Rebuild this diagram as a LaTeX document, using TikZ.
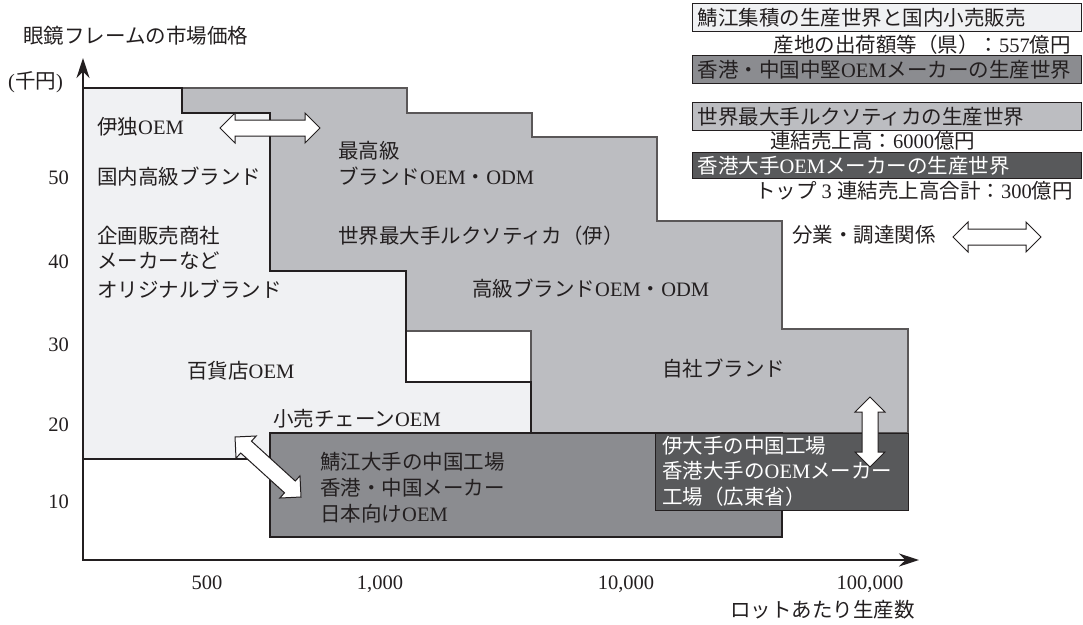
\documentclass[tikz,border=0pt]{standalone}
\usepackage{fontspec}
\setmainfont{Liberation Serif}
\newfontfamily\jp{Noto Sans CJK JP}
\usetikzlibrary{arrows.meta}
\definecolor{cLight}{RGB}{240,241,243}
\definecolor{cMid}{RGB}{188,189,193}
\definecolor{cDark}{RGB}{139,140,144}
\definecolor{cDarkest}{RGB}{88,89,91}
\definecolor{txt}{RGB}{35,31,32}
\newcommand\J[1]{{\jp #1}}
\newcommand\fsz{\fontsize{20.5pt}{24pt}\selectfont}
\newcommand\dblarrow[4]{%
  \draw[blockarrow,shift={(#1,#2)},rotate=#4]
    (-#3,0) -- (-#3+15,-15) -- (-#3+15,-8) -- (#3-15,-8) -- (#3-15,-15) -- (#3,0)
    -- (#3-15,15) -- (#3-15,8) -- (-#3+15,8) -- (-#3+15,15) -- cycle;}
\tikzset{
  lbl/.style={anchor=west, inner sep=0pt, text=txt, font=\fsz, text height=16pt, text depth=3pt},
  lblw/.style={lbl, text=white},
  lightreg/.style={fill=cLight, draw=txt, line width=2pt, line join=miter},
  midreg/.style={fill=cMid, draw=txt!75, line width=1.1pt},
  darkreg/.style={fill=cDark, draw=txt, line width=1.6pt},
  darkestreg/.style={fill=cDarkest, draw=txt, line width=1pt},
  blockarrow/.style={fill=white, draw=txt, line width=1pt, line join=miter},
  axisline/.style={draw=txt, line width=2pt},
  legbox/.style={anchor=north west, inner ysep=0pt, inner xsep=5pt, text width=379pt, align=left,
                 minimum height=28pt, font=\fsz, text=txt, draw=txt, line width=1.2pt},
}
\begin{document}
\begin{tikzpicture}[x=1pt,y=-1pt]
\useasboundingbox (0,0) rectangle (1083,624);
% regions
\draw[midreg] (182,88) -- (407,88) -- (407,113) -- (532,113) -- (532,137) -- (657,137)
  -- (657,221) -- (782,221) -- (782,329) -- (908,329) -- (908,433) -- (531,433)
  -- (531,331) -- (406,331) -- (406,271) -- (270,271) -- (270,113) -- (182,113) -- cycle;
\draw[lightreg] (83,88) -- (182,88) -- (182,113) -- (270,113) -- (270,271) -- (406,271)
  -- (406,382) -- (531,382) -- (531,433) -- (270,433) -- (270,459) -- (83,459) -- cycle;
\draw[darkreg] (270,433) rectangle (782,537);
\draw[darkestreg] (655,433) rectangle (908,510);
% axes
\coordinate (Ytip) at (83,58);
\coordinate (O) at (83,560);
\coordinate (Xtip) at (919,560);
\draw[axisline, {Stealth[length=20pt,width=13pt]}-{Stealth[length=20pt,width=13pt]}] (Ytip) -- (O) -- (Xtip);
% axis labels
\node[lbl] (ytitle) at (23,37) {\J{眼鏡フレームの市場価格}};
\node[lbl] (yunit) at (8,82) {(\J{千円})};
\node[lbl, anchor=east] (y50) at (69,178) {50};
\node[lbl, anchor=east] (y40) at (69,262) {40};
\node[lbl, anchor=east] (y30) at (69,345) {30};
\node[lbl, anchor=east] (y20) at (69,425) {20};
\node[lbl, anchor=east] (y10) at (69,502) {10};
\node[lbl, anchor=center] (x500) at (207,583) {500};
\node[lbl, anchor=center] (x1k) at (380,583) {1,000};
\node[lbl, anchor=center] (x10k) at (626,583) {10,000};
\node[lbl, anchor=center] (x100k) at (870,583) {100,000};
\node[lbl, anchor=east] (xtitle) at (915,611) {\J{ロットあたり生産数}};
% region labels
\node[lbl] (tIdo) at (97,128) {\J{伊独}OEM};
\node[lbl] (tKokunai) at (97,178) {\J{国内高級ブランド}};
\node[lbl] (tKikaku1) at (97,237) {\J{企画販売商社}};
\node[lbl] (tKikaku2) at (97,262) {\J{メーカーなど}};
\node[lbl] (tOrig) at (97,291) {\J{オリジナルブランド}};
\node[lbl] (tSaiko1) at (338,152) {\J{最高級}};
\node[lbl] (tSaiko2) at (338,178) {\J{ブランド}OEM\J{・}ODM};
\node[lbl] (tLux) at (338,237) {\J{世界最大手ルクソティカ（伊）}};
\node[lbl] (tKokyu) at (472,290) {\J{高級ブランド}OEM\J{・}ODM};
\node[lbl] (tHyakka) at (187,372) {\J{百貨店}OEM};
\node[lbl] (tKouri) at (273,420) {\J{小売チェーン}OEM};
\node[lbl] (tSabae1) at (320,463) {\J{鯖江大手の中国工場}};
\node[lbl] (tSabae2) at (320,489) {\J{香港・中国メーカー}};
\node[lbl] (tSabae3) at (320,515) {\J{日本向け}OEM};
\node[lbl] (tJisha) at (662,370) {\J{自社ブランド}};
\node[lblw] (tIt1) at (662,447) {\J{伊大手の中国工場}};
\node[lblw] (tIt2) at (662,472) {\J{香港大手の}OEM\J{メーカー}};
\node[lblw] (tIt3) at (662,498) {\J{工場（広東省）}};
% block arrows
\dblarrow{270}{128}{50}{0}
\dblarrow{268}{467}{44.6}{-42.3}
\dblarrow{870}{432}{35}{90}
% legend
\node[legbox, fill=cLight] (L1) at (692,3) {\J{鯖江集積の生産世界と国内小売販売}};
\node[lbl, anchor=east] (L1v) at (1071,46) {\J{産地の出荷額等（県）：}557\J{億円}};
\node[legbox, fill=cDark] (L2) at (692,55) {\J{香港・中国中堅}OEM\J{メーカーの生産世界}};
\node[legbox, fill=cMid] (L3) at (692,102) {\J{世界最大手ルクソティカの生産世界}};
\node[lbl] (L3v) at (770,142) {\J{連結売上高：}6000\J{億円}};
\node[legbox, fill=cDarkest, text=white, minimum height=26pt] (L4) at (692,152) {\J{香港大手}OEM\J{メーカーの生産世界}};
\node[lbl, anchor=east] (L4v) at (1073,192) {\J{トップ}\makebox[20.5pt]{3}\J{連結売上高合計：}300\J{億円}};
\node[lbl] (Lrel) at (792,236) {\J{分業・調達関係}};
\dblarrow{997}{237}{44}{0}
\end{tikzpicture}
\end{document}
